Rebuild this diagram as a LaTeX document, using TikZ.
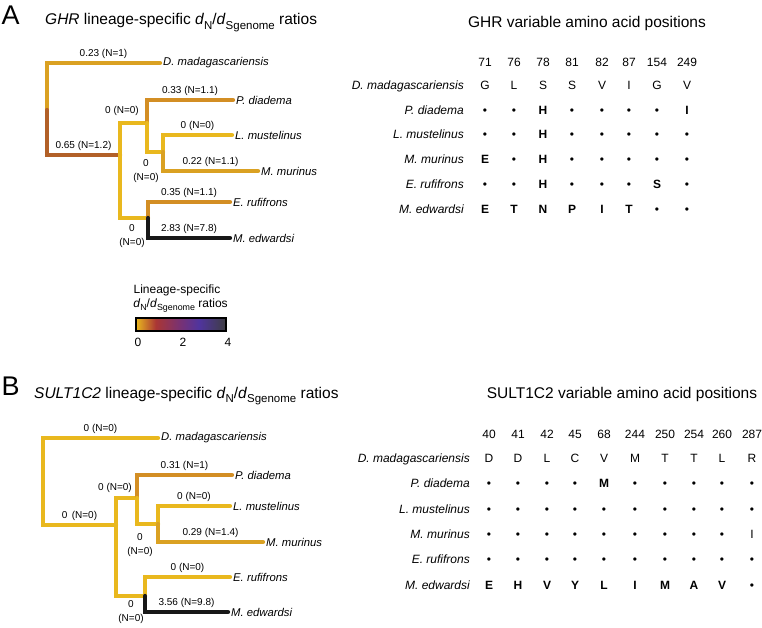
\documentclass[tikz,border=0pt]{standalone}
\usepackage{fontspec}
\setmainfont{Liberation Sans}
\definecolor{dzero}{RGB}{233,184,30}
\definecolor{dlow}{RGB}{218,161,34}
\definecolor{dmid}{RGB}{211,142,36}
\definecolor{dhigh}{RGB}{178,96,40}
\definecolor{dtop}{RGB}{24,24,24}
\definecolor{gred}{RGB}{170,54,52}
\definecolor{gmag}{RGB}{118,50,118}
\definecolor{gblu}{RGB}{80,52,158}
\definecolor{ggry}{RGB}{62,62,66}
\pgfdeclarehorizontalshading{ratiobar}{100bp}{color(0bp)=(dzero); color(25bp)=(dzero); color(36bp)=(gred); color(50bp)=(gmag); color(60bp)=(gblu); color(75bp)=(ggry); color(100bp)=(ggry)}
\newcommand{\dt}{\textbullet}
\newcommand{\sbs}[1]{\raisebox{-0.27em}{\scalebox{0.74}{#1}}}
\newcommand{\dnds}{\textit{d}\sbs{N}/\textit{d}\sbs{Sgenome}}

\begin{document}
\begin{tikzpicture}[x=1pt, y=-1pt, every node/.style={inner sep=0pt},
  br/.style={line width=4.3pt, line cap=round},
  sp/.style={font=\fontsize{11.3}{13}\selectfont\itshape, anchor=west, inner sep=3pt},
  blab/.style={font=\fontsize{10}{12}\selectfont, text=black, above, inner sep=2pt},
  ilab/.style={font=\fontsize{10}{14}\selectfont, align=center},
  ttl/.style={font=\fontsize{15.5}{18}\selectfont},
  pnl/.style={font=\fontsize{27}{30}\selectfont, anchor=base west},
  tab/.style={font=\fontsize{12}{14}\selectfont, anchor=base},
  rowlab/.style={font=\fontsize{12}{14}\selectfont\itshape, anchor=base east}]
\useasboundingbox (0,0) rectangle (762,628);
% --- A: GHR tree ---
\node[pnl] (pA) at (1.5,25) {A};
\node[ttl, anchor=base west] (tA) at (45,25) {\textit{GHR} lineage-specific \dnds{} ratios};
\coordinate (rA) at (47,110);
\coordinate (nA1) at (120,155);
\coordinate (nA2) at (147,123);
\coordinate (nA3) at (163,152);
\coordinate (nA4) at (148,218);
\node[sp] (dmA) at (160,63) {D. madagascariensis};
\node[sp] (pdA) at (233,100) {P. diadema};
\node[sp] (lmA) at (232,135) {L. mustelinus};
\node[sp] (mmA) at (258,171) {M. murinus};
\node[sp] (erA) at (230,202) {E. rufifrons};
\node[sp] (meA) at (230,238) {M. edwardsi};
\draw[br, dlow] (rA) |- node[blab, pos=.75] (bA1) {0.23 (N=1)} (dmA);
\draw[br, dhigh] (rA) |- node[blab, pos=.75] (bA2) {0.65 (N=1.2)} (nA1);
\draw[br, dzero] (nA1) |- (nA2);
\draw[br, dzero] (nA1) |- (nA4);
\draw[br, dmid] (nA2) |- node[blab, pos=.75] (bA3) {0.33 (N=1.1)} (pdA);
\draw[br, dzero] (nA2) |- (nA3);
\draw[br, dzero] (nA3) |- node[blab, pos=.75] (bA4) {0 (N=0)} (lmA);
\draw[br, dlow] (nA3) |- node[blab, pos=.75] (bA5) {0.22 (N=1.1)} (mmA);
\draw[br, dmid] (nA4) |- node[blab, pos=.75] (bA6) {0.35 (N=1.1)} (erA);
\draw[br, dtop] (nA4) |- node[blab, pos=.75] (bA7) {2.83 (N=7.8)} (meA);
\node[ilab] (iA1) at (122,111) {0 (N=0)};
\node[ilab] (iA2) at (146,171) {0\\(N=0)};
\node[ilab] (iA3) at (132,236) {0\\(N=0)};
% --- legend ---
\node[tab] (lg1) at (177,293) {Lineage-specific};
\node[tab] (lg2) at (180.5,307) {\dnds{} ratios};
\shade[shading=ratiobar] (136,318) rectangle (226,331);
\draw[line width=1.1pt] (136,318) rectangle (226,331);
\foreach \v/\x in {0/138,2/183,4/228}
    \node[tab] (k\v) at (\x,346) {\v};
% --- A: GHR positions ---
\node[ttl, anchor=base] (hdA) at (587,28) {GHR variable amino acid positions};
\foreach \x/\n [count=\c] in {485/71,514/76,543/78,572/81,602/82,629/87,657/154,687/249}
    \node[tab] (hA\c) at (\x,66.3) {\n};
\foreach \sp/\row [count=\r] in {
    D. madagascariensis/{G,L,S,S,V,I,G,V},
    P. diadema/{\dt,\dt,\textbf{H},\dt,\dt,\dt,\dt,\textbf{I}},
    L. mustelinus/{\dt,\dt,\textbf{H},\dt,\dt,\dt,\dt,\dt},
    M. murinus/{\textbf{E},\dt,\textbf{H},\dt,\dt,\dt,\dt,\dt},
    E. rufifrons/{\dt,\dt,\textbf{H},\dt,\dt,\dt,\textbf{S},\dt},
    M. edwardsi/{\textbf{E},\textbf{T},\textbf{N},\textbf{P},\textbf{I},\textbf{T},\dt,\dt}} {
    \node[rowlab] (sA\r) at (464,{89.3+24.8*(\r-1)}) {\sp};
    \foreach \aa [count=\c] in \row
        \node[tab] (cA\r-\c) at (hA\c |- sA\r.base) {\aa};
}
% --- B: SULT1C2 tree ---
\node[pnl] (pB) at (1.5,395.5) {B};
\node[ttl, anchor=base west] (tB) at (34,398) {\textit{SULT1C2} lineage-specific \dnds{} ratios};
\coordinate (rB) at (43,481);
\coordinate (nB1) at (116,525);
\coordinate (nB2) at (137,498);
\coordinate (nB3) at (158,524);
\coordinate (nB4) at (145,596);
\node[sp] (dmB) at (158,438) {D. madagascariensis};
\node[sp] (pdB) at (232,475) {P. diadema};
\node[sp] (lmB) at (230,506) {L. mustelinus};
\node[sp] (mmB) at (263,542) {M. murinus};
\node[sp] (erB) at (230,577) {E. rufifrons};
\node[sp] (meB) at (228,612) {M. edwardsi};
\draw[br, dzero] (rB) |- node[blab, pos=.75] (bB1) {0 (N=0)} (dmB);
\draw[br, dzero] (rB) |- node[blab, pos=.75] (bB2) {0 \,(N=0)} (nB1);
\draw[br, dzero] (nB1) |- (nB2);
\draw[br, dzero] (nB1) |- (nB4);
\draw[br, dmid] (nB2) |- node[blab, pos=.75] (bB3) {0.31 (N=1)} (pdB);
\draw[br, dzero] (nB2) |- (nB3);
\draw[br, dzero] (nB3) |- node[blab, pos=.75] (bB4) {0 (N=0)} (lmB);
\draw[br, dlow] (nB3) |- node[blab, pos=.75] (bB5) {0.29 (N=1.4)} (mmB);
\draw[br, dzero] (nB4) |- node[blab, pos=.75] (bB6) {0 (N=0)} (erB);
\draw[br, dtop] (nB4) |- node[blab, pos=.75] (bB7) {3.56 (N=9.8)} (meB);
\node[ilab] (iB1) at (115,488) {0 (N=0)};
\node[ilab] (iB2) at (140,545.5) {0\\(N=0)};
\node[ilab] (iB3) at (131,612) {0\\(N=0)};
% --- B: SULT1C2 positions ---
\node[ttl, anchor=base] (hdB) at (622,398) {SULT1C2 variable amino acid positions};
\foreach \x/\n [count=\c] in {489/40,518/41,547/42,575/45,604/68,635/244,665/250,694/254,722/260,752/287}
    \node[tab] (hB\c) at (\x,438.3) {\n};
\foreach \sp/\row [count=\r] in {
    D. madagascariensis/{D,D,L,C,V,M,T,T,L,R},
    P. diadema/{\dt,\dt,\dt,\dt,\textbf{M},\dt,\dt,\dt,\dt,\dt},
    L. mustelinus/{\dt,\dt,\dt,\dt,\dt,\dt,\dt,\dt,\dt,\dt},
    M. murinus/{\dt,\dt,\dt,\dt,\dt,\dt,\dt,\dt,\dt,I},
    E. rufifrons/{\dt,\dt,\dt,\dt,\dt,\dt,\dt,\dt,\dt,\dt},
    M. edwardsi/{\textbf{E},\textbf{H},\textbf{V},\textbf{Y},\textbf{L},\textbf{I},\textbf{M},\textbf{A},\textbf{V},\dt}} {
    \node[rowlab] (sB\r) at (470,{462.3+25.4*(\r-1)}) {\sp};
    \foreach \aa [count=\c] in \row
        \node[tab] (cB\r-\c) at (hB\c |- sB\r.base) {\aa};
}
\end{tikzpicture}
\end{document}
